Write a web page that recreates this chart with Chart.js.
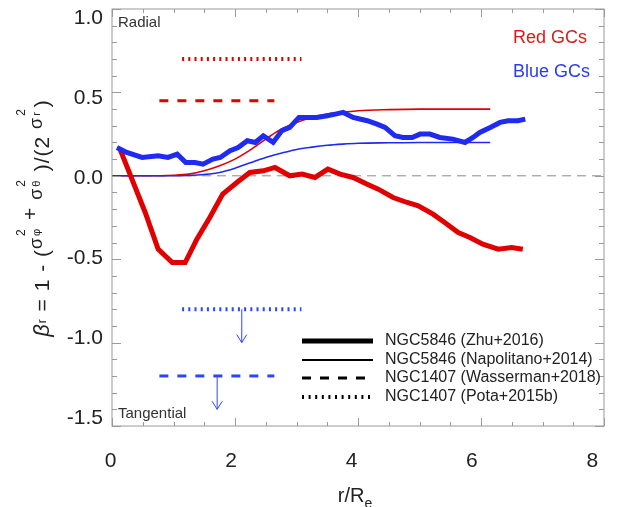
<!DOCTYPE html>
<html>
<head>
<meta charset="utf-8">
<script src="https://cdn.jsdelivr.net/npm/chart.js@4.4.0/dist/chart.umd.min.js"></script>
<style>
  body { margin: 0; background: #fff; }
  canvas { display: block; }
</style>
</head>
<body>
<canvas id="chart" width="624" height="507"></canvas>
<script>
// ---- data ----
const redZhuR = [0.13,0.54,0.75,0.98,1.19,1.38,1.59,1.80,2.03,2.24,2.46,2.65,2.89,3.09,3.30,3.51,3.71,3.92,4.15,4.33,4.57,4.80,4.98,5.22,5.41,5.63,5.82,6.03,6.28,6.50,6.68];
const redZhuBeta = [0.16,-0.22,-0.44,-0.52,-0.52,-0.38,-0.25,-0.11,-0.04,0.02,0.03,0.05,0.0,0.01,-0.01,0.04,0.01,-0.01,-0.05,-0.08,-0.13,-0.16,-0.18,-0.23,-0.28,-0.34,-0.37,-0.41,-0.44,-0.43,-0.44];

const blueZhuR = [0.08,0.24,0.49,0.75,0.91,1.06,1.20,1.35,1.48,1.64,1.76,1.92,2.05,2.20,2.33,2.46,2.62,2.76,2.89,3.04,3.19,3.33,3.50,3.63,3.76,3.92,4.15,4.31,4.44,4.60,4.73,4.88,5.01,5.17,5.33,5.54,5.74,5.87,5.98,6.15,6.31,6.44,6.60,6.72];
const blueZhuBeta = [0.17,0.14,0.11,0.12,0.11,0.13,0.08,0.08,0.07,0.10,0.11,0.15,0.17,0.21,0.20,0.24,0.20,0.27,0.29,0.35,0.35,0.35,0.36,0.37,0.38,0.35,0.33,0.31,0.29,0.24,0.23,0.23,0.25,0.25,0.23,0.22,0.20,0.23,0.26,0.29,0.32,0.33,0.33,0.34];

const napR = [0,0.5,1.0,1.25,1.5,1.75,2.0,2.25,2.5,2.75,3.0,3.25,3.5,3.75,4.0,4.5,5.0,5.5,6.15];
const napRedBeta = [0,0,0.003,0.01,0.03,0.06,0.10,0.155,0.22,0.28,0.32,0.35,0.37,0.38,0.39,0.397,0.40,0.40,0.40];
const napBlueBeta = [0,0,0,0.002,0.008,0.02,0.045,0.078,0.11,0.135,0.158,0.172,0.183,0.19,0.195,0.198,0.20,0.20,0.20];

const wassR = [0.77, 2.64];
const wassRedBeta = [0.45, 0.45];
const wassBlueBeta = [-1.20, -1.20];

const potaR = [1.14, 3.08];
const potaRedBeta = [0.70, 0.70];
const potaBlueBeta = [-0.80, -0.80];

// upper limits (blue GCs): arrow x, start, tip
const arrowR = [2.11, 1.71];
const arrowFrom = [-0.80, -1.20];
const arrowTo = [-1.00, -1.40];

const zeroR = [0, 8];
const zeroBeta = [0, 0];

const legendLabels = ['NGC5846 (Zhu+2016)', 'NGC5846 (Napolitano+2014)', 'NGC1407 (Wasserman+2018)', 'NGC1407 (Pota+2015b)'];

const RED = '#e00000';
const BLUE = '#1f2af2';
const BLUE_L = '#2c46ff';
const FONT = '"Liberation Sans", Arial, sans-serif';

function pts(xs, ys) {
  return xs.map((x, i) => ({ x: x, y: ys[i] }));
}

function line(data, color, width, dash, order, extra) {
  return Object.assign({
    data: data, borderColor: color, borderWidth: width, borderDash: dash || [],
    showLine: true, pointRadius: 0, fill: false, order: order
  }, extra || {});
}

// ---- frame, ticks, labels, texts, arrows, legend ----
const decor = {
  id: 'decor',
  afterDatasetsDraw(chart) {
    const ctx = chart.ctx, a = chart.chartArea;
    const xs = chart.scales.x, ys = chart.scales.y;
    ctx.save();

    // frame + inward ticks
    ctx.strokeStyle = '#9a9a9a';
    ctx.lineWidth = 1;
    ctx.strokeRect(a.left, a.top, a.right - a.left, a.bottom - a.top);
    ctx.beginPath();
    for (let k = 0; k <= 16; k++) {
      const px = Math.round(xs.getPixelForValue(k / 2)) + 0.5;
      const len = k % 4 === 0 ? 8 : 4;
      ctx.moveTo(px, a.bottom); ctx.lineTo(px, a.bottom - len);
      ctx.moveTo(px, a.top); ctx.lineTo(px, a.top + len);
    }
    for (let k = -15; k <= 10; k++) {
      const py = Math.round(ys.getPixelForValue(k / 10)) + 0.5;
      const len = k % 5 === 0 ? 9 : 5;
      ctx.moveTo(a.left, py); ctx.lineTo(a.left + len, py);
      ctx.moveTo(a.right, py); ctx.lineTo(a.right - len, py);
    }
    ctx.stroke();

    // tick labels (the original's labels sit slightly pulled toward the middle)
    ctx.fillStyle = '#222';
    ctx.font = '21px ' + FONT;
    ctx.textBaseline = 'middle';
    ctx.textAlign = 'center';
    xs.ticks.forEach(function (t) {
      const px = a.left - 1.3 + 0.979 * (xs.getPixelForValue(t.value) - a.left);
      ctx.fillText(String(t.value), px, 461);
    });
    ctx.textAlign = 'right';
    const y0p = ys.getPixelForValue(0);
    ys.ticks.forEach(function (t) {
      const py = y0p + 2 + 0.959 * (ys.getPixelForValue(t.value) - y0p);
      ctx.fillText(t.value.toFixed(1), 103, py);
    });

    // arrows for the upper limits
    ctx.strokeStyle = BLUE_L;
    ctx.lineWidth = 1;
    for (let i = 0; i < arrowR.length; i++) {
      const px = xs.getPixelForValue(arrowR[i]);
      const p0 = ys.getPixelForValue(arrowFrom[i]);
      const p1 = ys.getPixelForValue(arrowTo[i]);
      ctx.beginPath();
      ctx.moveTo(px, p0); ctx.lineTo(px, p1);
      ctx.moveTo(px - 5, p1 - 8); ctx.lineTo(px, p1); ctx.lineTo(px + 5, p1 - 8);
      ctx.stroke();
    }

    // corner notes
    ctx.fillStyle = '#333';
    ctx.font = '15px ' + FONT;
    ctx.textBaseline = 'alphabetic';
    ctx.textAlign = 'left';
    ctx.fillText('Radial', 118, 27);
    ctx.fillText('Tangential', 118, 418);

    ctx.font = '18px ' + FONT;
    ctx.fillStyle = '#dc1a1a';
    ctx.fillText('Red GCs', 513, 43);
    ctx.fillStyle = '#2a3cf0';
    ctx.fillText('Blue GCs', 513, 77);

    // legend
    const rows = [341, 360, 378, 397];
    const styles = [
      { w: 5, dash: [] },
      { w: 2, dash: [] },
      { w: 3, dash: [9, 9] },
      { w: 4, dash: [2, 4.6] }
    ];
    ctx.strokeStyle = '#000';
    for (let i = 0; i < legendLabels.length; i++) {
      ctx.beginPath();
      ctx.lineWidth = styles[i].w;
      ctx.setLineDash(styles[i].dash);
      ctx.moveTo(302, rows[i]); ctx.lineTo(373, rows[i]);
      ctx.stroke();
    }
    ctx.setLineDash([]);
    ctx.fillStyle = '#222';
    ctx.font = '16px ' + FONT;
    ctx.textBaseline = 'middle';
    legendLabels.forEach((t, i) => ctx.fillText(t, 385, rows[i]));

    // x title r/R_e
    ctx.textBaseline = 'alphabetic';
    ctx.font = '20px ' + FONT;
    const main = 'r/R';
    const mw = ctx.measureText(main).width;
    ctx.font = '14px ' + FONT;
    const sw = ctx.measureText('e').width;
    const x0 = (a.left + a.right) / 2 - (mw + sw) / 2 - 3;
    ctx.font = '20px ' + FONT;
    ctx.fillText(main, x0, 502);
    ctx.font = '14px ' + FONT;
    ctx.fillText('e', x0 + mw, 508);

    // y title, rotated
    const runs = [
      { t: '\u03b2', s: 22, r: 0, it: true },
      { t: 'r', s: 12, r: 3 },
      { t: ' = 1 - (', s: 21, r: 0 },
      { t: '\u03c3', s: 18, r: 7, sup: '2', sub: '\u03c6' },
      { t: ' + ', s: 21, r: 12 },
      { t: '\u03c3', s: 18, r: 7, sup: '2', sub: '\u03b8' },
      { t: ' )/(2 ', s: 21, r: 0 },
      { t: '\u03c3', s: 18, r: 7, sup: '2', sub: 'r' },
      { t: ')', s: 21, r: 0 }
    ];
    const fontOf = (s, it) => (it ? 'italic ' : '') + s + 'px ' + FONT;
    ctx.letterSpacing = '1px';
    let total = 0;
    runs.forEach(function (run) {
      ctx.font = fontOf(run.s, run.it);
      run.w = ctx.measureText(run.t).width;
      if (run.sup) {
        ctx.font = fontOf(12);
        const w1 = ctx.measureText(run.sup).width;
        ctx.font = fontOf(11);
        const w2 = ctx.measureText(run.sub).width;
        run.w += Math.max(w1, w2) + 2;
      }
      total += run.w;
    });
    ctx.translate(49, 218);
    ctx.rotate(-Math.PI / 2);
    ctx.fillStyle = '#222';
    let cx = -total / 2;
    runs.forEach(function (run) {
      ctx.font = fontOf(run.s, run.it);
      ctx.fillText(run.t, cx, -run.r);
      if (run.sup) {
        const gx = cx + ctx.measureText(run.t).width + 1;
        ctx.font = fontOf(12);
        ctx.fillText(run.sup, gx, -24);
        ctx.font = fontOf(11);
        ctx.fillText(run.sub, gx, -9);
      }
      cx += run.w;
    });

    ctx.restore();
  }
};

new Chart(document.getElementById('chart'), {
  type: 'scatter',
  data: {
    datasets: [
      line(pts(zeroR, zeroBeta), '#8a8a8a', 1, [9, 6], 9),
      line(pts(napR, napRedBeta), RED, 1.6, [], 8, { cubicInterpolationMode: 'monotone' }),
      line(pts(napR, napBlueBeta), BLUE, 1.6, [], 7, { cubicInterpolationMode: 'monotone' }),
      line(pts(redZhuR, redZhuBeta), RED, 5, [], 6),
      line(pts(blueZhuR, blueZhuBeta), BLUE, 5, [], 5),
      line(pts(wassR, wassRedBeta), RED, 3, [9, 9], 4),
      line(pts(potaR, potaRedBeta), RED, 4, [2, 4.2], 3),
      line(pts(wassR, wassBlueBeta), BLUE_L, 3, [9, 9], 2),
      line(pts(potaR, potaBlueBeta), BLUE_L, 4, [2, 4.2], 1)
    ]
  },
  options: {
    responsive: false,
    animation: false,
    layout: { padding: { top: 9, right: 20, left: 0, bottom: 0 } },
    plugins: { legend: { display: false }, tooltip: { enabled: false } },
    scales: {
      x: {
        type: 'linear', min: 0, max: 8,
        grid: { display: false }, border: { display: false },
        ticks: { stepSize: 2, display: false },
        afterFit: function (s) { s.height = 81; s.paddingLeft = 0; s.paddingRight = 0; }
      },
      y: {
        type: 'linear', min: -1.5, max: 1.0,
        grid: { display: false }, border: { display: false },
        ticks: { stepSize: 0.5, display: false },
        afterFit: function (s) { s.width = 112; s.paddingTop = 0; s.paddingBottom = 0; }
      }
    }
  },
  plugins: [decor]
});
</script>
</body>
</html>
